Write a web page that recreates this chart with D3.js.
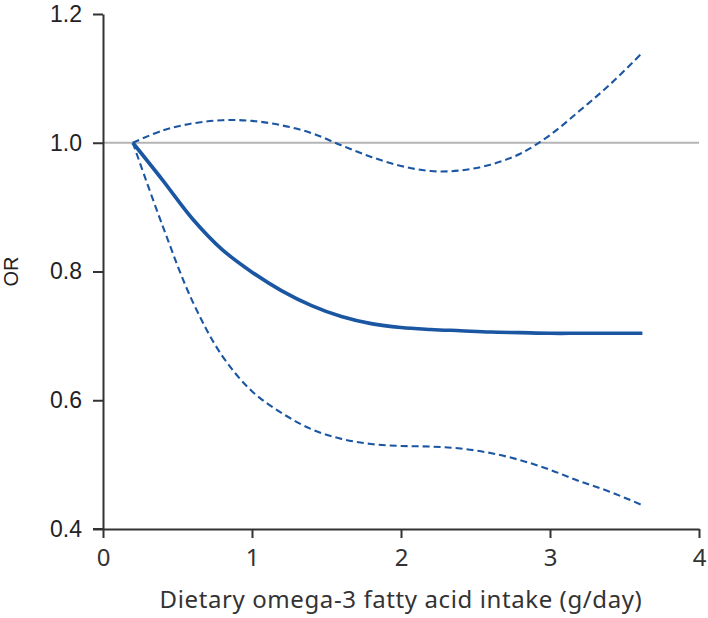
<!DOCTYPE html>
<html>
<head>
<meta charset="utf-8">
<script src="https://cdn.jsdelivr.net/npm/d3@7"></script>
<style>
  html, body { margin: 0; padding: 0; background: #fff; }
  svg { display: block; }
</style>
</head>
<body>
<svg id="chart" width="708" height="618"></svg>
<script>
// Data
const intake = [0.2, 0.4, 0.6, 0.8, 1.0, 1.2, 1.4, 1.6, 1.8, 2.0, 2.2, 2.4, 2.6, 2.8, 3.0, 3.2, 3.4, 3.62];
const orEstimate = [1.000, 0.942, 0.882, 0.834, 0.799, 0.770, 0.747, 0.730, 0.719, 0.713, 0.710, 0.708, 0.706, 0.705, 0.704, 0.704, 0.704, 0.704];
const orUpper = [1.000, 1.019, 1.030, 1.035, 1.034, 1.027, 1.015, 0.996, 0.978, 0.964, 0.956, 0.957, 0.966, 0.983, 1.012, 1.050, 1.090, 1.140];
const orLower = [1.000, 0.871, 0.754, 0.669, 0.614, 0.580, 0.555, 0.540, 0.532, 0.529, 0.528, 0.525, 0.518, 0.507, 0.492, 0.474, 0.458, 0.437];
const xTicks = [0, 1, 2, 3, 4];
const yTicks = [0.4, 0.6, 0.8, 1.0, 1.2];
const referenceOR = 1.0;
const xTitle = "Dietary omega-3 fatty acid intake (g/day)";
const yTitle = "OR";

const svg = d3.select("#chart");
const margin = { left: 103, right: 9, top: 14, bottom: 89 };
const W = 708, H = 618;

const x = d3.scaleLinear().domain([0, 4]).range([margin.left, W - margin.right]);
const y = d3.scaleLinear().domain([0.4, 1.2]).range([H - margin.bottom, margin.top]);

const blue = "#1b56a2";
const axisColor = "#333";
const armFont = "'Liberation Sans', Arial, sans-serif";
const sansFont = "'Noto Sans', sans-serif";

// reference line at OR = 1
svg.append("line")
  .attr("x1", x(0)).attr("x2", x(4))
  .attr("y1", y(referenceOR)).attr("y2", y(referenceOR))
  .attr("stroke", "#b4b4b4").attr("stroke-width", 2);

// axes
const yAxis = d3.axisLeft(y).tickValues(yTicks).tickSize(10).tickSizeOuter(0).tickPadding(11)
  .tickFormat(d3.format(".1f"));
const gy = svg.append("g").attr("transform", `translate(${x(0)},0)`).call(yAxis);
gy.attr("font-family", null);
gy.selectAll("text").style("font-family", armFont)
  .style("font-size", "23px").attr("fill", "#222");

const xAxis = d3.axisBottom(x).tickValues(xTicks).tickSize(9).tickSizeOuter(0).tickPadding(11)
  .tickFormat(d3.format("d"));
const gx = svg.append("g").attr("transform", `translate(0,${y(0.4)})`).call(xAxis);
gx.attr("font-family", null);
gx.selectAll("text").style("font-family", sansFont)
  .style("font-size", "24px").attr("fill", "#333");

[gx, gy].forEach(g => {
  g.select(".domain").attr("stroke", axisColor).attr("stroke-width", 2);
  g.selectAll(".tick line").attr("stroke", axisColor).attr("stroke-width", 2);
});
// extend x-axis left to meet the 0.4 tick
svg.append("line")
  .attr("x1", x(0) - 10).attr("x2", x(0))
  .attr("y1", y(0.4)).attr("y2", y(0.4))
  .attr("stroke", axisColor).attr("stroke-width", 2);

// titles
svg.append("text")
  .attr("x", (x(0) + x(4)) / 2).attr("y", 608)
  .attr("text-anchor", "middle")
  .style("font-family", sansFont).style("font-size", "24px").style("letter-spacing", "0.6px")
  .attr("fill", "#333")
  .text(xTitle);

svg.append("text")
  .attr("transform", `translate(18,${(y(0.4) + y(1.2)) / 2}) rotate(-90)`)
  .attr("text-anchor", "middle")
  .style("font-family", armFont).style("font-size", "20px").attr("fill", "#222")
  .text(yTitle);

// curves
const line = (vals) => d3.line()
  .x((d, i) => x(intake[i]))
  .y(d => y(d))
  .curve(d3.curveCatmullRom.alpha(0.5))(vals);

svg.append("path").attr("d", line(orUpper))
  .attr("fill", "none").attr("stroke", blue).attr("stroke-width", 2.1)
  .attr("stroke-dasharray", "7,4");
svg.append("path").attr("d", line(orLower))
  .attr("fill", "none").attr("stroke", blue).attr("stroke-width", 2.1)
  .attr("stroke-dasharray", "7,4");
svg.append("path").attr("d", line(orEstimate))
  .attr("fill", "none").attr("stroke", blue).attr("stroke-width", 3.6);
</script>
</body>
</html>
